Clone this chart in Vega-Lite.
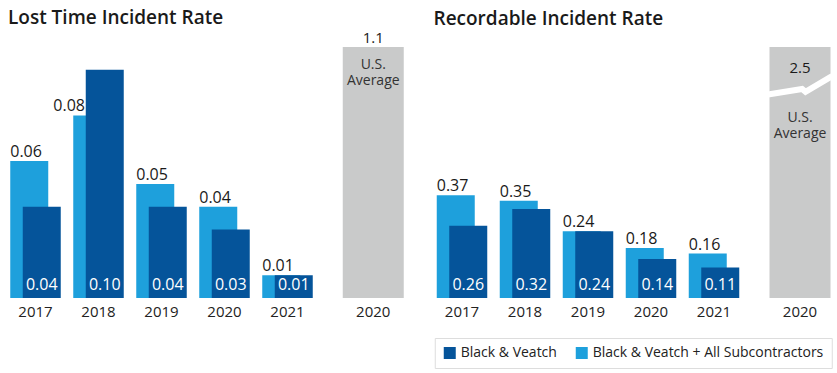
{
  "$schema": "https://vega.github.io/schema/vega-lite/v6.json",
  "padding": {"left": 4, "top": 8, "right": 0, "bottom": 0},
  "background": "white",
  "config": {
    "view": {"stroke": null},
    "font": "Open Sans",
    "axis": {"labelFont": "Open Sans", "labelFontSize": 15, "labelColor": "#222222", "labelAngle": 0, "domain": false, "ticks": false, "grid": false, "labelPadding": 6, "title": null},
    "title": {"font": "Open Sans", "fontSize": 19, "fontWeight": 600, "color": "#1a1a1a", "anchor": "start", "frame": "group", "baseline": "alphabetic"}
  },
  "datasets": {
    "rates": [
      {"chart": "lti", "year": "2017", "series": "Black & Veatch", "value": 0.04},
      {"chart": "lti", "year": "2017", "series": "Black & Veatch + All Subcontractors", "value": 0.06},
      {"chart": "lti", "year": "2018", "series": "Black & Veatch", "value": 0.10},
      {"chart": "lti", "year": "2018", "series": "Black & Veatch + All Subcontractors", "value": 0.08},
      {"chart": "lti", "year": "2019", "series": "Black & Veatch", "value": 0.04},
      {"chart": "lti", "year": "2019", "series": "Black & Veatch + All Subcontractors", "value": 0.05},
      {"chart": "lti", "year": "2020", "series": "Black & Veatch", "value": 0.03},
      {"chart": "lti", "year": "2020", "series": "Black & Veatch + All Subcontractors", "value": 0.04},
      {"chart": "lti", "year": "2021", "series": "Black & Veatch", "value": 0.01},
      {"chart": "lti", "year": "2021", "series": "Black & Veatch + All Subcontractors", "value": 0.01},
      {"chart": "rir", "year": "2017", "series": "Black & Veatch", "value": 0.26},
      {"chart": "rir", "year": "2017", "series": "Black & Veatch + All Subcontractors", "value": 0.37},
      {"chart": "rir", "year": "2018", "series": "Black & Veatch", "value": 0.32},
      {"chart": "rir", "year": "2018", "series": "Black & Veatch + All Subcontractors", "value": 0.35},
      {"chart": "rir", "year": "2019", "series": "Black & Veatch", "value": 0.24},
      {"chart": "rir", "year": "2019", "series": "Black & Veatch + All Subcontractors", "value": 0.24},
      {"chart": "rir", "year": "2020", "series": "Black & Veatch", "value": 0.14},
      {"chart": "rir", "year": "2020", "series": "Black & Veatch + All Subcontractors", "value": 0.18},
      {"chart": "rir", "year": "2021", "series": "Black & Veatch", "value": 0.11},
      {"chart": "rir", "year": "2021", "series": "Black & Veatch + All Subcontractors", "value": 0.16}
    ],
    "us": [
      {"chart": "lti", "year": "2020", "label": "U.S. Average", "value": 1.1},
      {"chart": "rir", "year": "2020", "label": "U.S. Average", "value": 2.5}
    ]
  },
  "spacing": 21.5,
  "hconcat": [
    {
      "title": {"text": "Lost Time Incident Rate", "dx": 4, "offset": 3},
      "spacing": 19.25,
      "bounds": "flush",
      "hconcat": [
        {
          "width": 315, "height": 251,
          "data": {"name": "rates"},
          "transform": [
            {"filter": "datum.chart == 'lti'"},
            {"joinaggregate": [{"op": "max", "field": "value", "as": "maxv"}], "groupby": ["year"]}
          ],
          "encoding": {
            "x": {"field": "year", "type": "ordinal", "scale": {"paddingInner": 0, "paddingOuter": 0}},
            "y": {"field": "value", "type": "quantitative", "scale": {"domain": [0, 0.11], "nice": false}, "axis": null}
          },
          "layer": [
            {
              "transform": [{"filter": "datum.series == 'Black & Veatch + All Subcontractors'"}],
              "mark": {"type": "bar", "width": 38, "xOffset": -6.25},
              "encoding": {"color": {"field": "series", "type": "nominal", "scale": {"domain": ["Black & Veatch", "Black & Veatch + All Subcontractors"], "range": ["#05549a", "#1ea0dc"]}, "legend": {"orient": "none", "legendX": 430.75, "legendY": 291, "direction": "horizontal", "title": null, "symbolType": "square", "symbolSize": 144, "symbolStrokeWidth": 0, "symbolOpacity": 1, "labelFont": "Open Sans", "labelFontSize": 14, "labelColor": "#222222", "labelOffset": 4, "labelLimit": 400, "columnPadding": 17, "padding": 8, "strokeColor": "#dddddd"}}}
            },
            {
              "transform": [{"filter": "datum.series == 'Black & Veatch'"}],
              "mark": {"type": "bar", "width": 38, "xOffset": 6.25},
              "encoding": {"color": {"field": "series", "type": "nominal"}}
            },
            {
              "transform": [{"filter": "datum.series == 'Black & Veatch + All Subcontractors' && datum.value >= datum.maxv"}],
              "mark": {"type": "text", "align": "left", "baseline": "alphabetic", "dy": -4, "xOffset": -25.25, "fontSize": 16, "color": "#1a1a1a"},
              "encoding": {"text": {"field": "value", "type": "quantitative", "format": ".2f"}}
            },
            {
              "transform": [{"filter": "datum.series == 'Black & Veatch + All Subcontractors' && datum.value < datum.maxv"}],
              "mark": {"type": "text", "align": "right", "baseline": "alphabetic", "dy": -4, "xOffset": -13.5, "fontSize": 16, "color": "#1a1a1a"},
              "encoding": {"text": {"field": "value", "type": "quantitative", "format": ".2f"}}
            },
            {
              "transform": [{"filter": "datum.series == 'Black & Veatch'"}],
              "mark": {"type": "text", "align": "center", "baseline": "alphabetic", "dy": -8, "xOffset": 6.25, "fontSize": 16, "color": "#ffffff"},
              "encoding": {"y": {"datum": 0}, "text": {"field": "value", "type": "quantitative", "format": ".2f"}}
            }
          ]
        },
        {
          "width": 70, "height": 251,
          "data": {"name": "us"},
          "transform": [{"filter": "datum.chart == 'lti'"}],
          "encoding": {
            "x": {"field": "year", "type": "ordinal", "scale": {"paddingInner": 0, "paddingOuter": 0}},
            "y": {"field": "value", "type": "quantitative", "scale": {"domain": [0, 1.1], "nice": false}, "axis": null}
          },
          "layer": [
            {"mark": {"type": "bar", "width": 61, "color": "#c9caca"}},
            {
              "mark": {"type": "text", "align": "center", "baseline": "alphabetic", "dy": -4.5, "fontSize": 15, "color": "#1a1a1a"},
              "encoding": {"text": {"field": "value", "type": "quantitative", "format": ".1f"}}
            },
            {
              "mark": {"type": "text", "align": "center", "baseline": "alphabetic", "dy": 22, "fontSize": 14, "lineHeight": 16, "lineBreak": " ", "color": "#333333"},
              "encoding": {"text": {"field": "label"}}
            }
          ]
        }
      ]
    },
    {
      "title": {"text": "Recordable Incident Rate", "dx": 3, "offset": 18},
      "spacing": 19.5,
      "bounds": "flush",
      "hconcat": [
        {
          "width": 315, "height": 251,
          "data": {"name": "rates"},
          "transform": [
            {"filter": "datum.chart == 'rir'"},
            {"joinaggregate": [{"op": "max", "field": "value", "as": "maxv"}], "groupby": ["year"]}
          ],
          "encoding": {
            "x": {"field": "year", "type": "ordinal", "scale": {"paddingInner": 0, "paddingOuter": 0}},
            "y": {"field": "value", "type": "quantitative", "scale": {"domain": [0, 0.903], "nice": false}, "axis": null}
          },
          "layer": [
            {
              "transform": [{"filter": "datum.series == 'Black & Veatch + All Subcontractors'"}],
              "mark": {"type": "bar", "width": 38, "xOffset": -6.25},
              "encoding": {"color": {"field": "series", "type": "nominal"}}
            },
            {
              "transform": [{"filter": "datum.series == 'Black & Veatch'"}],
              "mark": {"type": "bar", "width": 38, "xOffset": 6.25},
              "encoding": {"color": {"field": "series", "type": "nominal"}}
            },
            {
              "transform": [{"filter": "datum.series == 'Black & Veatch + All Subcontractors' && datum.value >= datum.maxv"}],
              "mark": {"type": "text", "align": "left", "baseline": "alphabetic", "dy": -4, "xOffset": -25.25, "fontSize": 16, "color": "#1a1a1a"},
              "encoding": {"text": {"field": "value", "type": "quantitative", "format": ".2f"}}
            },
            {
              "transform": [{"filter": "datum.series == 'Black & Veatch + All Subcontractors' && datum.value < datum.maxv"}],
              "mark": {"type": "text", "align": "right", "baseline": "alphabetic", "dy": -4, "xOffset": -13.5, "fontSize": 16, "color": "#1a1a1a"},
              "encoding": {"text": {"field": "value", "type": "quantitative", "format": ".2f"}}
            },
            {
              "transform": [{"filter": "datum.series == 'Black & Veatch'"}],
              "mark": {"type": "text", "align": "center", "baseline": "alphabetic", "dy": -8, "xOffset": 6.25, "fontSize": 16, "color": "#ffffff"},
              "encoding": {"y": {"datum": 0}, "text": {"field": "value", "type": "quantitative", "format": ".2f"}}
            }
          ]
        },
        {
          "width": 70, "height": 251,
          "data": {"name": "us"},
          "transform": [{"filter": "datum.chart == 'rir'"}],
          "encoding": {
            "x": {"field": "year", "type": "ordinal", "scale": {"paddingInner": 0, "paddingOuter": 0}},
            "y": {"field": "value", "type": "quantitative", "scale": {"domain": [0, 2.5], "nice": false}, "axis": null}
          },
          "layer": [
            {"mark": {"type": "bar", "width": 61, "color": "#c9caca"}},
            {
              "mark": {"type": "point", "shape": "M -1.05 0.24 L 0.07 0.06 L 0.18 0.15 L 1.05 -0.36", "size": 3721, "filled": false, "stroke": "#ffffff", "strokeWidth": 6, "opacity": 1},
              "encoding": {"y": {"datum": 2.1}}
            },
            {
              "mark": {"type": "text", "align": "center", "baseline": "alphabetic", "dy": 26, "fontSize": 15, "color": "#1a1a1a"},
              "encoding": {"text": {"field": "value", "type": "quantitative", "format": ".1f"}}
            },
            {
              "mark": {"type": "text", "align": "center", "baseline": "alphabetic", "dy": 75, "fontSize": 14, "lineHeight": 16, "lineBreak": " ", "color": "#333333"},
              "encoding": {"text": {"field": "label"}}
            }
          ]
        }
      ]
    }
  ]
}
